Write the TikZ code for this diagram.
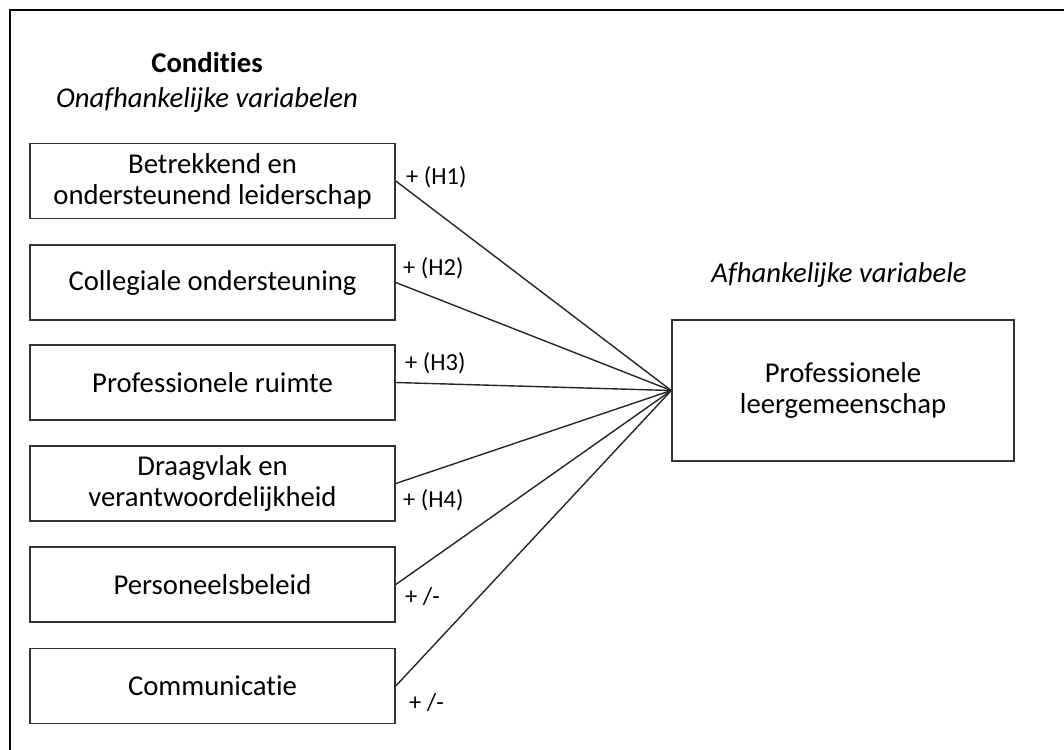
\documentclass[tikz,border=0pt]{standalone}
\usepackage{fontspec}
\setmainfont{Carlito}[Ligatures=NoCommon]
\begin{document}
\begin{tikzpicture}[x=1pt, y=-1pt]
    \tikzstyle{cond} = [draw=black!80, line width=1.5pt, minimum width=365pt, minimum height=75pt, align=center, inner sep=0pt, font=\fontsize{28.7}{31}\selectfont]
    \tikzstyle{hyp} = [anchor=west, inner sep=0pt, font=\fontsize{24.5}{28}\selectfont]
    \tikzstyle{link} = [draw=black!85, line width=1.4pt]
    \clip (0, 0) rectangle (1064, 749);
    \draw[line width=2pt] (9.5, 10) rectangle (1100, 800);
    \node[font=\fontsize{28.7}{31}\selectfont\bfseries] (tcond) at (207, 63) {Condities};
    \node[font=\fontsize{28.7}{31}\selectfont\itshape] (tonaf) at (207, 100) {Onafhankelijke variabelen};
    \node[font=\fontsize{28.7}{31}\selectfont\itshape] (tafh) at (839, 275) {Afhankelijke variabele};

    \node[cond] (b1) at (212.5, 181) {Betrekkend en\\ondersteunend leiderschap};
    \node[cond] (b2) at (212.5, 282.5) {Collegiale ondersteuning};
    \node[cond] (b3) at (212.5, 382.5) {Professionele ruimte};
    \node[cond] (b4) at (212.5, 483.5) {Draagvlak en\\verantwoordelijkheid};
    \node[cond] (b5) at (212.5, 584.5) {Personeelsbeleid};
    \node[cond] (b6) at (212.5, 686) {Communicatie};
    \node[cond, minimum width=342pt, minimum height=141pt] (plg) at (843, 390.5) {Professionele\\leergemeenschap};

    \draw[link] (b1.east) -- (plg.west);
    \draw[link] (b2.east) -- (plg.west);
    \draw[link] (b3.east) -- (plg.west);
    \draw[link] (b4.east) -- (plg.west);
    \draw[link] (b5.east) -- (plg.west);
    \draw[link] (b6.east) -- (plg.west);

    \node[hyp] (h1) at (406, 177) {+ (H1)};
    \node[hyp] (h2) at (403, 268) {+ (H2)};
    \node[hyp] (h3) at (405, 363) {+ (H3)};
    \node[hyp] (h4) at (403, 500) {+ (H4)};
    \node[hyp] (h5) at (405, 597) {+ /-};
    \node[hyp] (h6) at (409, 703) {+ /-};
\end{tikzpicture}
\end{document}
